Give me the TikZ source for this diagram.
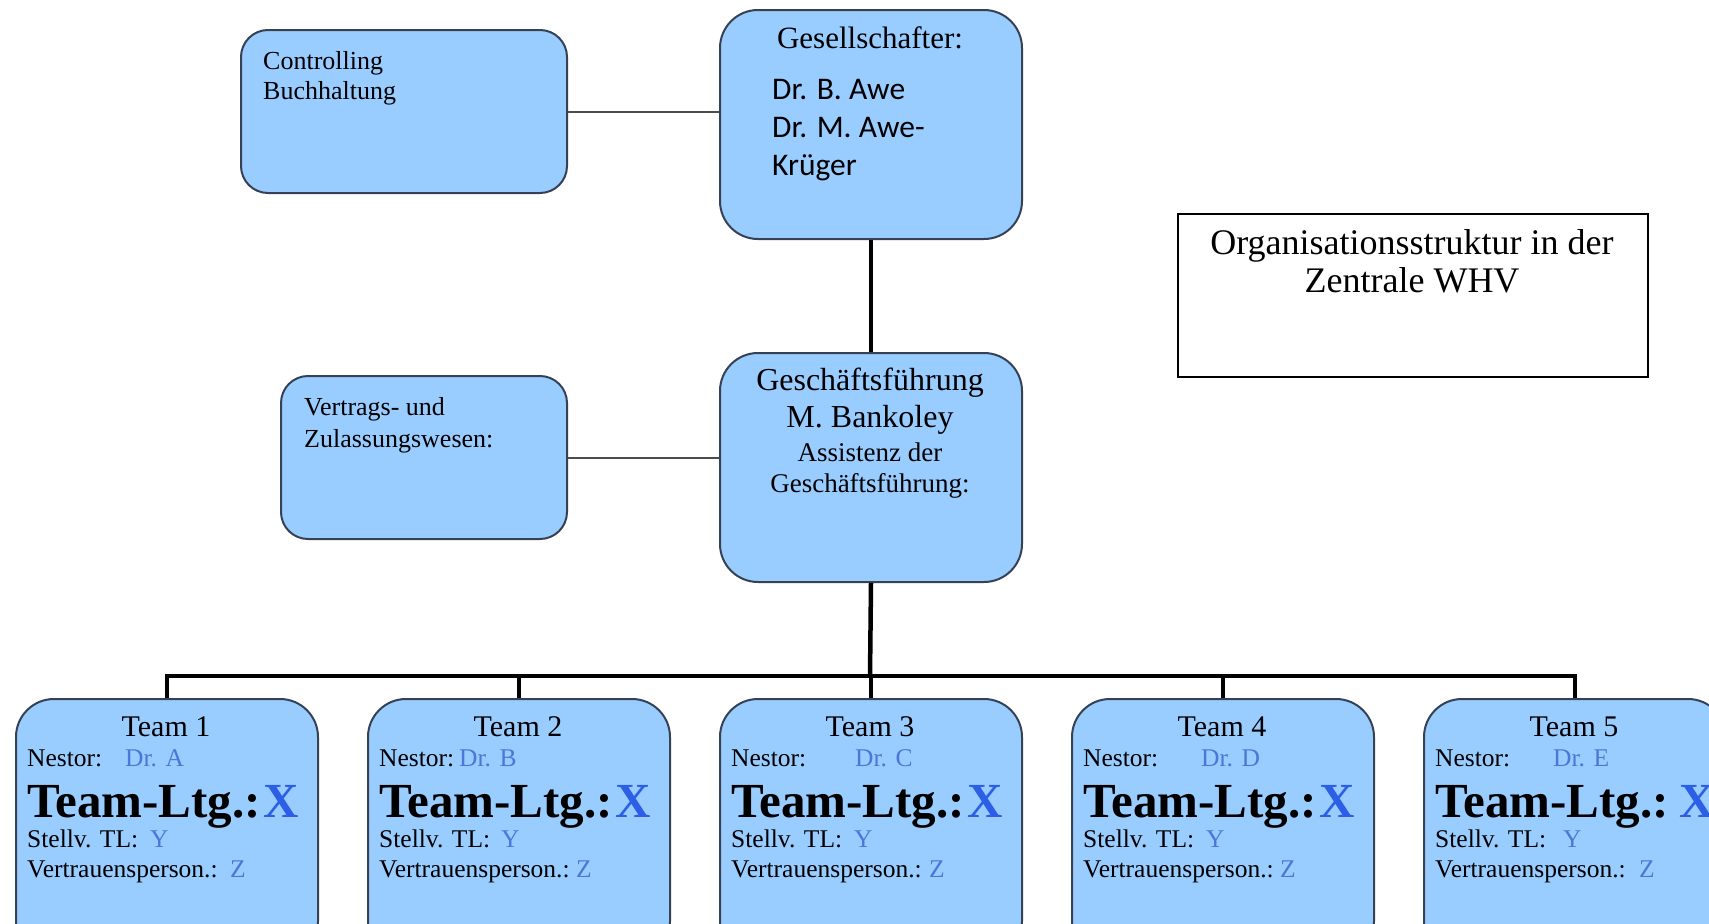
\documentclass[tikz,border=0pt]{standalone}
\usepackage{fontspec}
\setmainfont{Liberation Serif}
\newfontfamily\calibri{Carlito}
\usetikzlibrary{positioning}

\definecolor{boxblue}{RGB}{153,204,255}
\definecolor{boxline}{RGB}{55,65,85}
\definecolor{nameblue}{RGB}{75,120,215}
\definecolor{xblue}{RGB}{45,95,230}

\tikzset{
    unit/.style={draw=boxline, line width=2pt, fill=boxblue, rounded corners=27pt,
        inner sep=0pt, anchor=north west},
    bigunit/.style={unit, rounded corners=38pt, minimum width=302pt},
    lefttext/.style={inner sep=0pt, anchor=base west},
    midtext/.style={inner sep=0pt, anchor=base},
    sidefont/.style={font=\fontsize{26}{30}\selectfont},
    headfont/.style={font=\fontsize{32}{36}\selectfont},
    teamfont/.style={font=\fontsize{25.5}{30}\selectfont},
    thinline/.style={draw=black!70, line width=2pt},
    thickline/.style={draw=black, line width=4.5pt, line join=miter},
}

\begin{document}
\begin{tikzpicture}[x=1pt, y=-1pt]
    \clip (0,0) rectangle (1709,924);
    \fill[white] (0,0) rectangle (1709,924);

    % Gesellschafter and Controlling
    \node[unit, minimum width=326pt, minimum height=163pt] (ctrl) at (240,29) {};
    \node[lefttext, sidefont] (ctrlA) at (263,69) {Controlling};
    \node[lefttext, sidefont] (ctrlB) at (263,99) {Buchhaltung};

    \node[bigunit, minimum height=229pt] (gsh) at (719,9) {};
    \node[midtext, font=\fontsize{31}{36}\selectfont] (gshA) at (870,48) {Gesellschafter:};
    \begin{scope}[every node/.style={lefttext, font=\calibri\fontsize{31.5}{38}\selectfont}]
        \node (gshB) at (772,99) {Dr. B. Awe};
        \node (gshC) at (772,137) {Dr. M. Awe-};
        \node (gshD) at (772,175) {Krüger};
    \end{scope}

    % Geschaeftsfuehrung and Vertragswesen
    \node[unit, minimum width=286pt, minimum height=163pt] (vtr) at (280,375) {};
    \node[lefttext, sidefont] (vtrA) at (304,415) {Vertrags- und};
    \node[lefttext, sidefont] (vtrB) at (304,447) {Zulassungswesen:};

    \node[bigunit, minimum height=229pt] (gf) at (719,352) {};
    \node[midtext, headfont] (gfA) at (870,390) {Geschäftsführung};
    \node[midtext, headfont] (gfB) at (870,427) {M. Bankoley};
    \node[midtext, font=\fontsize{27}{30}\selectfont] (gfC) at (870,461) {Assistenz der};
    \node[midtext, font=\fontsize{27}{30}\selectfont] (gfD) at (870,492) {Geschäftsführung:};

    % title
    \node[draw, line width=1.5pt, anchor=north west, inner sep=0pt,
        minimum width=470pt, minimum height=163pt] (title) at (1177,213) {};
    \node[midtext, font=\fontsize{36}{40}\selectfont] (titleA) at (1412,254) {Organisationsstruktur in der};
    \node[midtext, font=\fontsize{36}{40}\selectfont] (titleB) at (1412,292) {Zentrale WHV};

    % teams
    \foreach \i/\who/\dn/\dy/\dz/\gap in {1/A/110/135/215/3, 2/B/92/134/209/3, 3/C/136/135/210/3,
                                          4/D/130/135/209/3, 5/E/130/140/216/11} {
        \pgfmathsetmacro\lx{15+352*(\i-1)}
        \node[bigunit, minimum height=260pt] (t\i) at (\lx,698) {};
        \node[midtext, font=\fontsize{30}{34}\selectfont] (t\i name) at (\lx+151,736) {Team \i};
        \node[lefttext, teamfont] (t\i nest) at (\lx+12,766) {Nestor:};
        \node[lefttext, teamfont, text=nameblue] (t\i dr) at (\lx+\dn,766) {Dr. \who};
        \node[lefttext, font=\bfseries\fontsize{49}{52}\selectfont] (t\i ltg) at (\lx+12,817)
            {Team-Ltg.:\kern\gap pt\textcolor{xblue}{X}};
        \node[lefttext, teamfont] (t\i stv) at (\lx+12,847) {Stellv. TL:};
        \node[lefttext, teamfont, text=nameblue] (t\i y) at (\lx+\dy,847) {Y};
        \node[lefttext, teamfont] (t\i vp) at (\lx+12,877) {Vertrauensperson.:};
        \node[lefttext, teamfont, text=nameblue] (t\i z) at (\lx+\dz,877) {Z};
    }

    % connectors
    \coordinate (bus) at (870,676);
    \draw[thinline] (ctrl.east) -- (ctrl.east -| gsh.west);
    \draw[thinline] (vtr.east) -- (vtr.east -| gf.west);
    \draw[thickline] (gsh.south) -- (gf.north);
    \draw[thickline] (gf.south) -- (bus);
    \draw[thickline] (t1.north) -- (t1.north |- bus) -- (t5.north |- bus) -- (t5.north);
    \foreach \i in {2,3,4}
        \draw[thickline] (t\i.north |- bus) -- (t\i.north);
\end{tikzpicture}
\end{document}
